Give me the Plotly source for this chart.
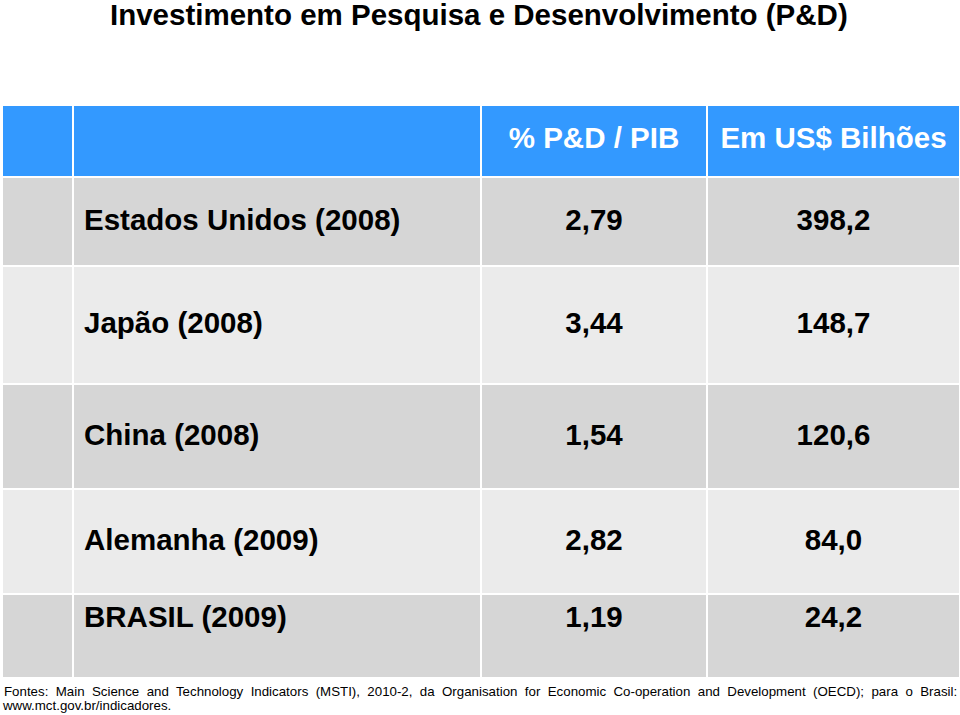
import plotly.graph_objects as go

titulo = "Investimento em Pesquisa e Desenvolvimento (P&D)"
cabecalho = ["% P&D / PIB", "Em US$ Bilhões"]
paises = ["Estados Unidos (2008)", "Japão (2008)", "China (2008)", "Alemanha (2009)", "BRASIL (2009)"]
pd_pib = ["2,79", "3,44", "1,54", "2,82", "1,19"]
us_bilhoes = ["398,2", "148,7", "120,6", "84,0", "24,2"]
fonte_1 = ("Fontes: Main Science and Technology Indicators (MSTI), 2010-2, da Organisation for "
           "Economic Co-operation and Development (OECD); para o Brasil:")
fonte_2 = "www.mct.gov.br/indicadores."

# geometria da tabela (pixels)
col_bordas = [2, 73, 481, 707, 960]
lin_bordas = [105, 177, 266, 384, 489, 594, 678]
desloc_texto = [1, 1, 1, 1, -16]  # ajuste vertical do texto em cada linha
FONTE = "Liberation Sans, Arial, sans-serif"

lin_centros = [(a + b) / 2 for a, b in zip(lin_bordas[:-1], lin_bordas[1:])]
col_centros = [(a + b) / 2 for a, b in zip(col_bordas[:-1], col_bordas[1:])]
y_texto = [c + d for c, d in zip(lin_centros[1:], desloc_texto)]

# 2 = cabeçalho azul, 0 = cinza escuro, 1 = cinza claro
faixas = [[2] * 4] + [[i % 2] * 4 for i in range(len(paises))]

fig = go.Figure()

fig.add_trace(go.Heatmap(
    x=col_bordas, y=lin_bordas, z=faixas,
    colorscale=[[0, "#d6d6d6"], [0.5, "#ebebeb"], [1, "#3399ff"]],
    zmin=0, zmax=2, showscale=False, xgap=2, ygap=2, hoverinfo="skip",
))

fig.add_trace(go.Scatter(
    x=col_centros[2:], y=[lin_centros[0]] * 2, text=cabecalho, mode="text",
    textposition="middle center",
    textfont=dict(family=FONTE, size=29.5, color="white", weight="bold"),
    hoverinfo="skip",
))
fig.add_trace(go.Scatter(
    x=[col_bordas[1] + 11] * len(paises), y=y_texto, text=paises, mode="text",
    textposition="middle right",
    textfont=dict(family=FONTE, size=29.5, color="black", weight="bold"),
    hoverinfo="skip",
))
fig.add_trace(go.Scatter(
    x=[col_centros[2]] * len(pd_pib), y=y_texto, text=pd_pib, mode="text",
    textposition="middle center",
    textfont=dict(family=FONTE, size=29.5, color="black", weight="bold"),
    hoverinfo="skip",
))
fig.add_trace(go.Scatter(
    x=[col_centros[3]] * len(us_bilhoes), y=y_texto, text=us_bilhoes, mode="text",
    textposition="middle center",
    textfont=dict(family=FONTE, size=29.5, color="black", weight="bold"),
    hoverinfo="skip",
))

fig.add_annotation(
    text="<b>" + titulo + "</b>", x=479, y=14, xanchor="center", yanchor="middle",
    showarrow=False, font=dict(family=FONTE, size=29.5, color="black"),
)
fig.add_annotation(
    text=fonte_1.replace(" ", "&nbsp; "), x=2, y=691, xanchor="left", yanchor="middle",
    showarrow=False, font=dict(family=FONTE, size=13.3, color="black"),
)
fig.add_annotation(
    text=fonte_2, x=0, y=705, xanchor="left", yanchor="middle",
    showarrow=False, font=dict(family=FONTE, size=13.3, color="black"),
)

fig.update_xaxes(range=[0, 960], visible=False, fixedrange=True)
fig.update_yaxes(range=[715, 0], visible=False, fixedrange=True)
fig.update_layout(
    width=960, height=715,
    margin=dict(l=0, r=0, t=0, b=0),
    paper_bgcolor="white",
    plot_bgcolor="white",
    showlegend=False,
)

fig.write_html("out.html", config={"displayModeBar": False},
               post_script="document.body.style.margin='0';document.body.style.overflow='hidden';")
